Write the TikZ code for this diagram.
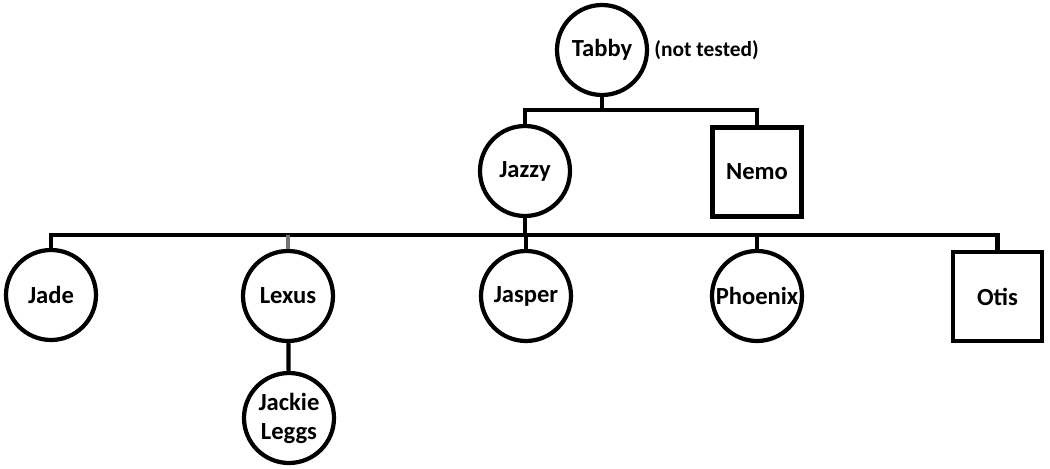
\documentclass[tikz,border=0pt]{standalone}
\usepackage{fontspec}
\setmainfont{Carlito}
\usetikzlibrary{positioning}

\begin{document}
\begin{tikzpicture}[
  female/.style={circle, draw=black, line width=2.4pt, minimum size=1.8cm,
    inner sep=0pt, align=center, font=\fontsize{14}{16.5}\selectfont\bfseries},
  male/.style={rectangle, draw=black, line width=2.4pt, minimum size=1.78cm,
    inner sep=0pt, align=center, font=\fontsize{14}{16.5}\selectfont\bfseries},
  note/.style={font=\fontsize{12.2}{14}\selectfont\bfseries, inner sep=0pt},
  link/.style={line width=2.4pt, black},
]
\useasboundingbox (0,0) rectangle (21,-9.38);

% Parents
\node[female] (Tabby) at (12.04,-1.0) {Tabby};
\node[note, right=0.1cm of Tabby] (nottested) {(not tested)};

% Offspring of Tabby
\node[female] (Jazzy) at (10.5,-3.42) {Jazzy};
\node[male] (Nemo) at (15.14,-3.44) {Nemo};

% Offspring of Jazzy
\node[female] (Jade) at (1.02,-5.9) {Jade};
\node[female] (Lexus) at (5.76,-5.92) {Lexus};
\node[female] (Jasper) at (10.52,-5.92) {Jasper};
\node[female] (Phoenix) at (15.14,-5.92) {Phoenix};
\node[male] (Otis) at (19.95,-5.93) {Otis};

% Offspring of Lexus
\node[female] (Jackie) at (5.78,-8.36) {Jackie\\Leggs};

% Lines of descent
\coordinate (bartop) at (12.04,-2.2);
\coordinate (barlow) at (10.5,-4.7);
\draw[link] (Tabby) -- (bartop);
\draw[link] (Jazzy.north) |- (bartop) -| (Nemo.north);
\draw[link] (Jazzy) -- (barlow);
\draw[link] (Jade.north) |- (barlow) -| (Otis.north);
\foreach \kid in {Jasper, Phoenix}{
  \draw[link] (\kid.north) -- (\kid.north |- barlow);
}
\draw[link, black!55] (Lexus.north) -- (Lexus.north |- barlow);
\draw[link] (Lexus) -- (Jackie);

\end{tikzpicture}
\end{document}
